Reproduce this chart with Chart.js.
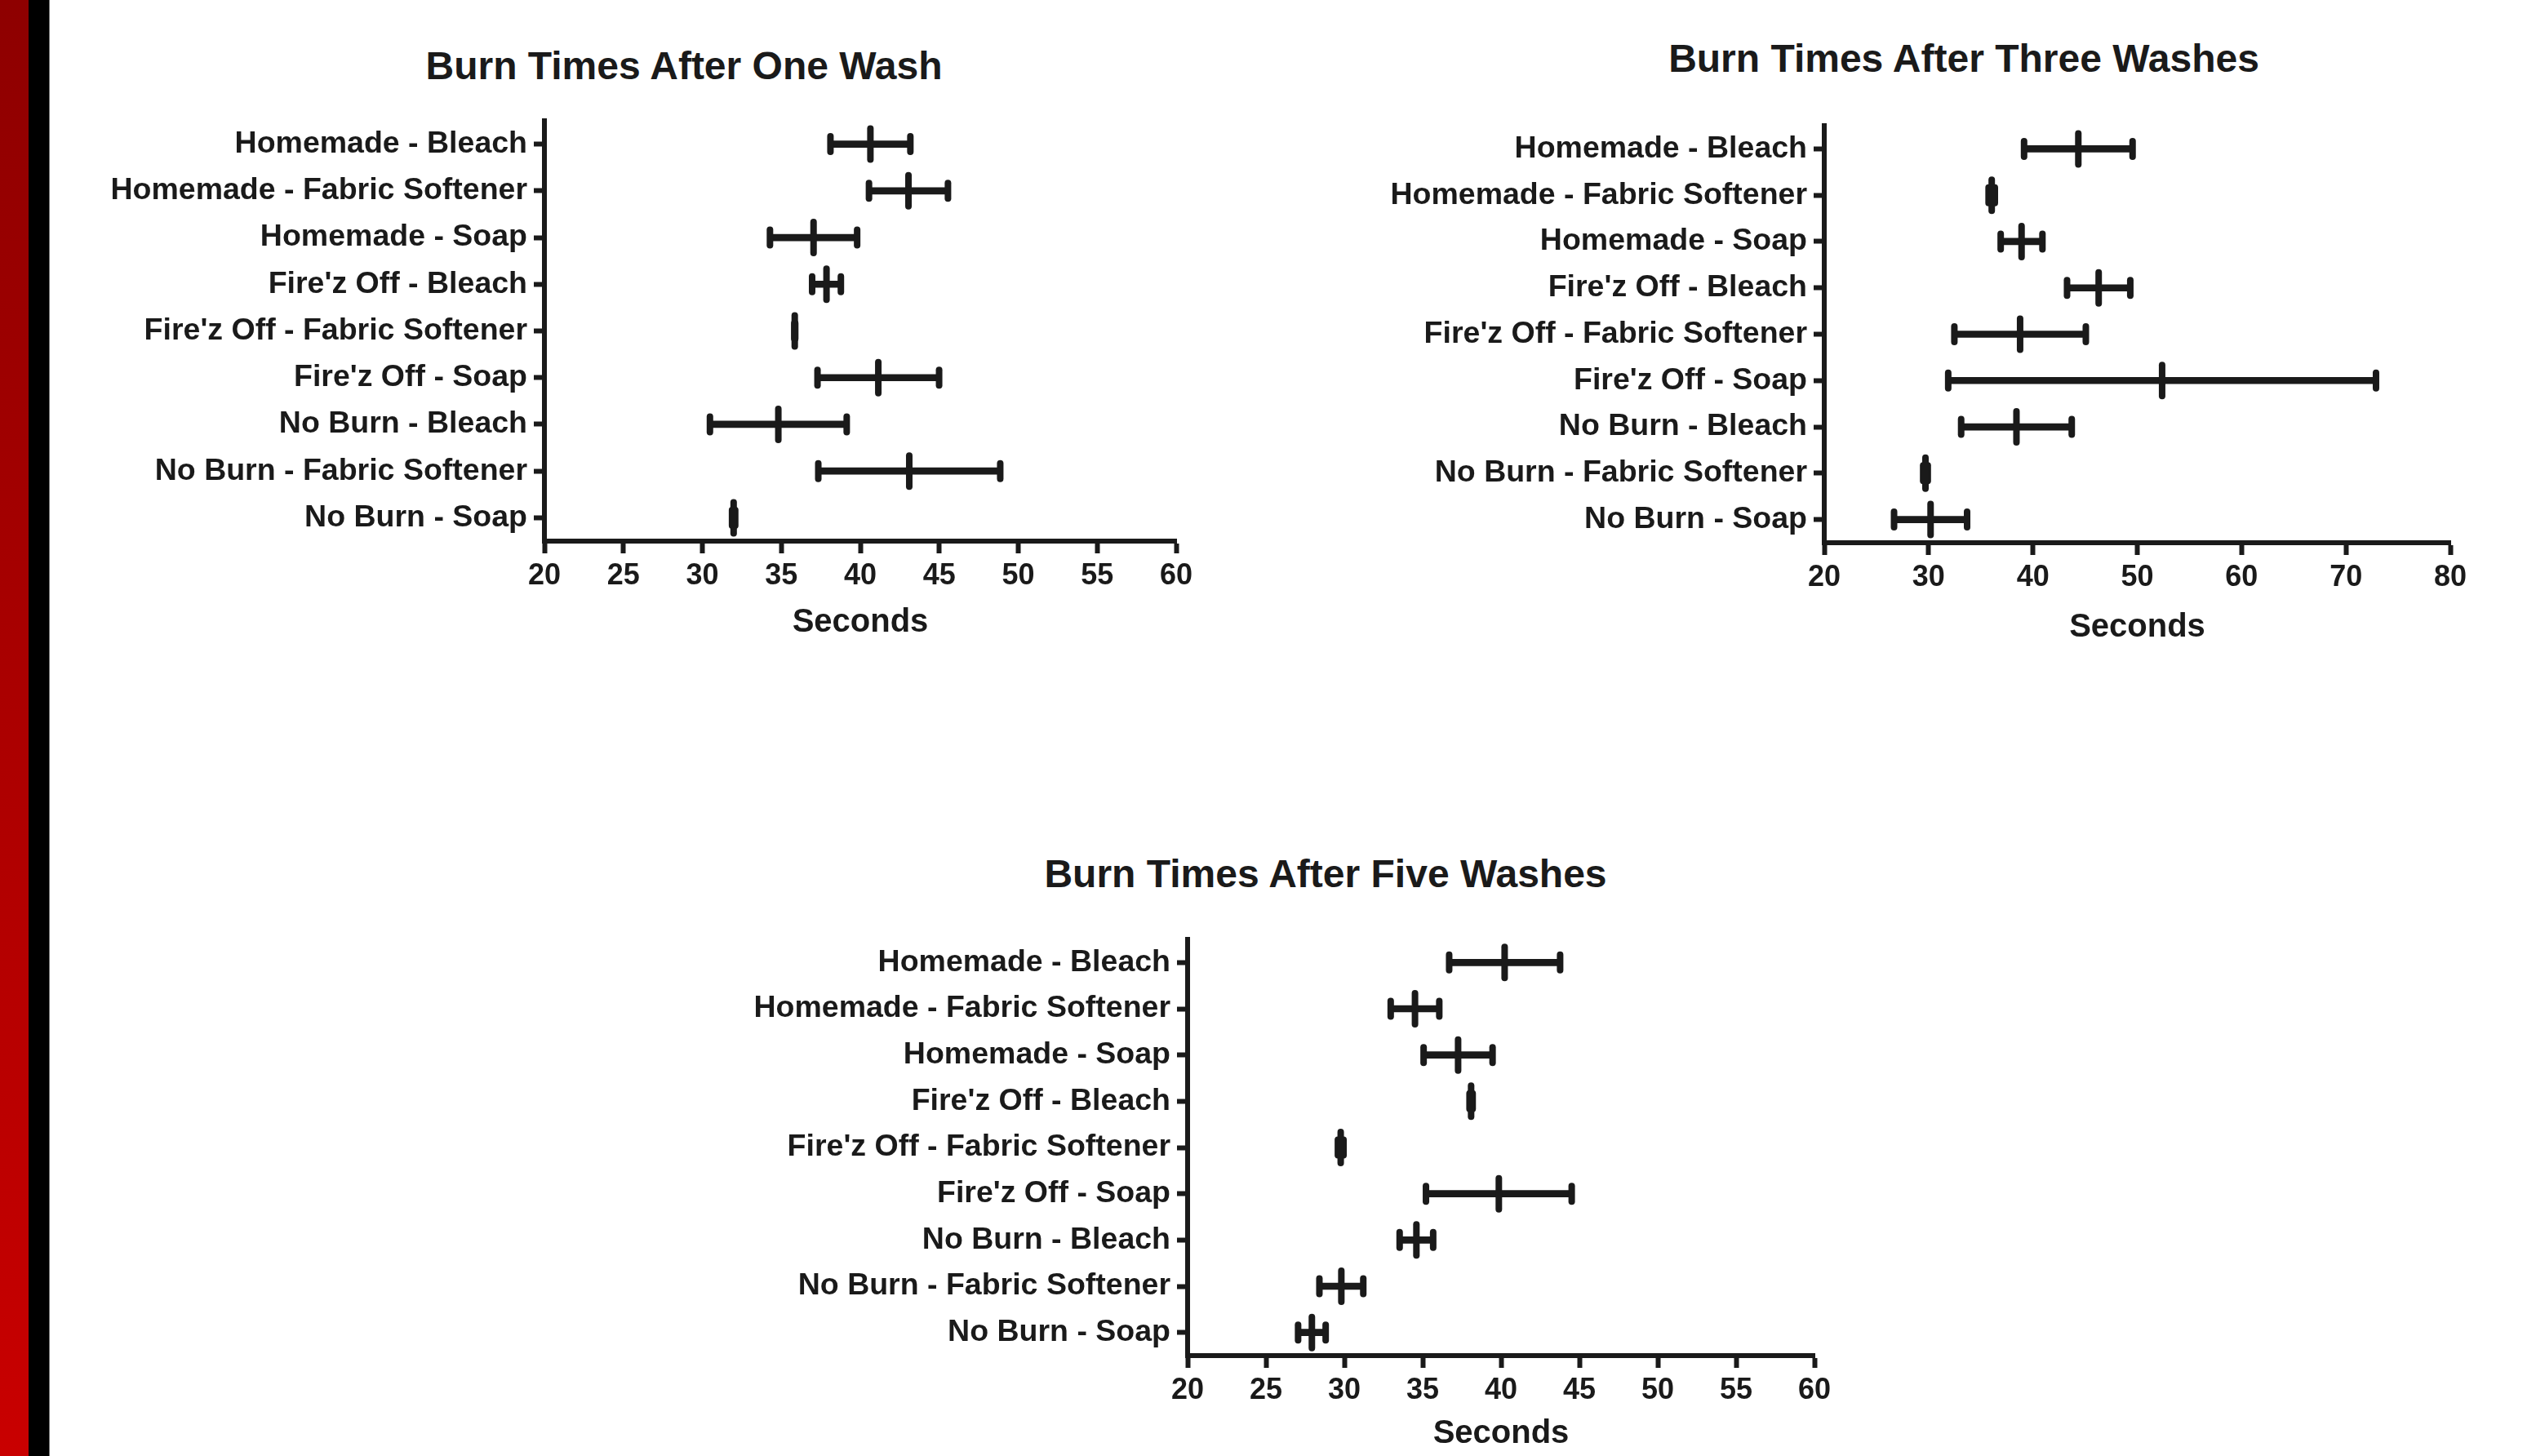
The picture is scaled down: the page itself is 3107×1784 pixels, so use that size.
<!DOCTYPE html>
<html lang="en">
<head>
  <meta charset="UTF-8">
  <title>Burn Times</title>
  <script src="https://cdn.jsdelivr.net/npm/chart.js"></script>
  <style>
    html, body { margin: 0; padding: 0; background: #fff; }
    body { position: relative; width: 3107px; height: 1784px; overflow: hidden; }
    .stripe-red { position: absolute; left: 0; top: 0; width: 35px; height: 1784px; background: linear-gradient(#8e0000, #c90000); }
    .stripe-black { position: absolute; left: 35px; top: 0; width: 25px; height: 1784px; background: #000; }
    .stripe-gray { position: absolute; left: 60px; top: 0; width: 1px; height: 1784px; background: #777; }
    canvas { position: absolute; }
    .panel-title {
      position: absolute;
      transform: translateX(-50%);
      white-space: nowrap;
      font-family: 'Liberation Sans', Arial, Helvetica, sans-serif;
      font-weight: bold;
      font-size: 48px;
      line-height: 48px;
      color: #1a1a1a;
    }
  </style>
</head>
<body>
  <div class="stripe-red"></div>
  <div class="stripe-black"></div>
  <div class="stripe-gray"></div>

  <div class="panel-title" style="left:838px; top:57px">Burn Times After One Wash</div>
  <div class="panel-title" style="left:2406px; top:48px">Burn Times After Three Washes</div>
  <div class="panel-title" style="left:1624px; top:1047px">Burn Times After Five Washes</div>

  <canvas id="oneWash" width="1501" height="803" style="left:0px; top:0px"></canvas>
  <canvas id="threeWash" width="1412" height="805" style="left:1650px; top:0px"></canvas>
  <canvas id="fiveWash" width="1403" height="793" style="left:880px; top:990px"></canvas>

  <script>
    const categories = [
      'Homemade - Bleach', 'Homemade - Fabric Softener', 'Homemade - Soap',
      "Fire'z Off - Bleach", "Fire'z Off - Fabric Softener", "Fire'z Off - Soap",
      'No Burn - Bleach', 'No Burn - Fabric Softener', 'No Burn - Soap'
    ];

    // mean burn time (seconds) and error bar half width
    const oneWashMean = [40.64, 43.05, 37.04, 37.86, 35.85, 41.14, 34.81, 43.10, 31.98];
    const oneWashErr = [2.53, 2.50, 2.76, 0.91, 0.03, 3.85, 4.33, 5.76, 0.10];

    const threeWashMean = [44.35, 36.05, 38.91, 46.30, 38.77, 52.38, 38.42, 29.70, 30.19];
    const threeWashErr = [5.20, 0.30, 2.00, 3.03, 6.30, 20.50, 5.30, 0.22, 3.50];

    const fiveWashMean = [40.23, 34.51, 37.26, 38.09, 29.77, 39.86, 34.60, 29.81, 27.93];
    const fiveWashErr = [3.54, 1.55, 2.20, 0.10, 0.18, 4.65, 1.07, 1.40, 0.88];

    // x axis tick labels
    const secondsTo60 = [20, 25, 30, 35, 40, 45, 50, 55, 60];
    const secondsTo80 = [20, 30, 40, 50, 60, 70, 80];

    const INK = '#1a1a1a';
    const FONT = "'Liberation Sans', Arial, Helvetica, sans-serif";

    // rounded ends on the cap / mean strokes
    const roundCaps = {
      id: 'roundCaps',
      beforeDatasetsDraw(chart) { chart.ctx.save(); chart.ctx.lineCap = 'round'; },
      afterDatasetsDraw(chart) { chart.ctx.restore(); }
    };

    function markSet(data, radius, width, order) {
      return {
        type: 'line',
        data: data,
        showLine: false,
        order: order,
        pointStyle: 'line',
        pointRotation: 90,
        pointRadius: radius,
        pointBorderWidth: width,
        pointBorderColor: INK,
        pointBackgroundColor: INK
      };
    }

    function drawPanel(canvasId, mean, err, tickValues, box) {
      const low = mean.map((m, i) => m - err[i]);
      const high = mean.map((m, i) => m + err[i]);

      return new Chart(document.getElementById(canvasId), {
        type: 'bar',
        data: {
          labels: categories,
          datasets: [
            markSet(mean, 19, 8, 0),
            markSet(low, 9.5, 8, 1),
            markSet(high, 9.5, 8, 1),
            {
              type: 'bar',
              data: low.map((l, i) => [l, high[i]]),
              backgroundColor: INK,
              borderWidth: 0,
              barThickness: 8,
              order: 2
            }
          ]
        },
        options: {
          indexAxis: 'y',
          responsive: false,
          animation: false,
          devicePixelRatio: 1,
          events: [],
          layout: { padding: { left: 0, right: 60, top: box.top, bottom: 0 } },
          plugins: {
            legend: { display: false },
            tooltip: { enabled: false },
            title: { display: false }
          },
          scales: {
            x: {
              type: 'linear',
              min: tickValues[0],
              max: tickValues[tickValues.length - 1],
              afterBuildTicks: s => { s.ticks = tickValues.map(v => ({ value: v })); },
              afterFit: s => { s.height = box.xHeight; },
              grid: { display: true, drawOnChartArea: false, drawTicks: true, tickLength: 15, tickWidth: 6, tickColor: INK, color: INK },
              border: { display: true, width: 6, color: INK },
              ticks: { color: INK, font: { family: FONT, size: 36, weight: 'bold' }, padding: 6, autoSkip: false, maxRotation: 0 },
              title: {
                display: true,
                text: 'Seconds',
                color: INK,
                font: { family: FONT, size: 40, weight: 'bold' },
                padding: { top: 0, bottom: box.xTitleBottom }
              }
            },
            y: {
              type: 'category',
              offset: true,
              afterFit: s => { s.width = box.yWidth; },
              grid: { display: true, offset: false, drawOnChartArea: false, drawTicks: true, tickLength: 13, tickWidth: 6, tickColor: INK, color: INK },
              border: { display: true, width: 6, color: INK },
              ticks: { color: INK, font: { family: FONT, size: 37.5, weight: 'bold' }, padding: 8, autoSkip: false }
            }
          }
        },
        plugins: [roundCaps]
      });
    }

    drawPanel('oneWash', oneWashMean, oneWashErr, secondsTo60,
      { top: 148, yWidth: 667, xHeight: 140, xTitleBottom: 16 });

    drawPanel('threeWash', threeWashMean, threeWashErr, secondsTo80,
      { top: 154, yWidth: 585, xHeight: 140, xTitleBottom: 12 });

    drawPanel('fiveWash', fiveWashMean, fiveWashErr, secondsTo60,
      { top: 161, yWidth: 575, xHeight: 122, xTitleBottom: 2 });
  </script>
</body>
</html>
